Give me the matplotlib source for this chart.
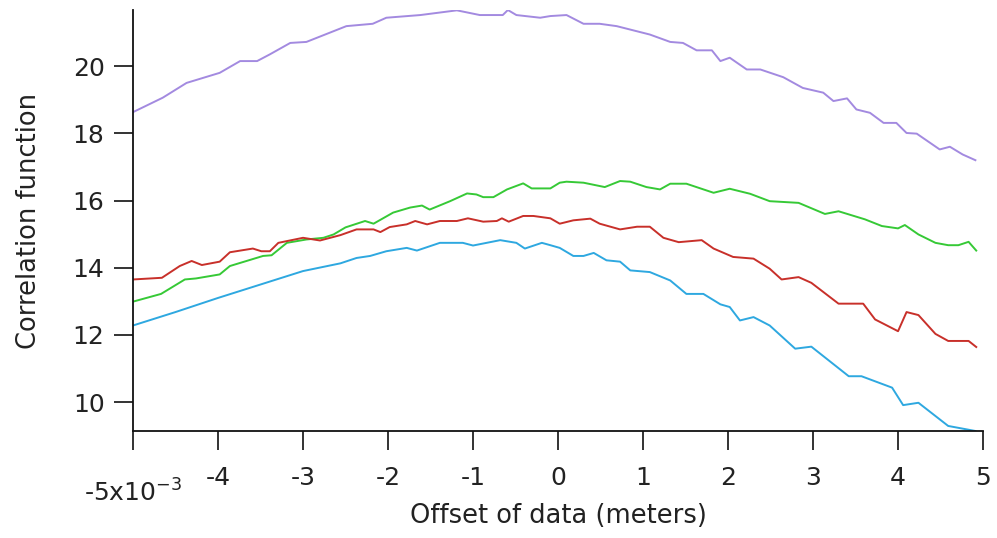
import numpy as np
import matplotlib
matplotlib.use("Agg")
import matplotlib.pyplot as plt
from matplotlib.transforms import ScaledTranslation

# offsets in mm (plotted as metres) and correlation values
purple_x = [-5.00, -4.65, -4.37, -3.98, -3.74, -3.54, -3.39, -3.15, -2.96, -2.49, -2.18, -2.02,
            -1.62, -1.19, -0.92, -0.65, -0.59, -0.49, -0.21, -0.09, 0.10, 0.30, 0.49, 0.69,
            1.08, 1.32, 1.47, 1.63, 1.81, 1.91, 2.02, 2.22, 2.38, 2.65, 2.88, 3.12, 3.24, 3.40,
            3.51, 3.67, 3.83, 3.98, 4.10, 4.22, 4.49, 4.61, 4.76, 4.91]
purple_y = [18.63, 19.06, 19.50, 19.80, 20.15, 20.15, 20.35, 20.69, 20.72, 21.19, 21.26, 21.44,
            21.52, 21.66, 21.52, 21.52, 21.67, 21.52, 21.44, 21.49, 21.52, 21.26, 21.26, 21.19,
            20.94, 20.72, 20.69, 20.47, 20.47, 20.15, 20.25, 19.90, 19.90, 19.67, 19.35, 19.21, 18.96, 19.04,
            18.71, 18.61, 18.31, 18.31, 18.01, 17.99, 17.52, 17.60, 17.37, 17.20]

green_x = [-5.00, -4.67, -4.39, -4.26, -3.98, -3.86, -3.47, -3.37, -3.19, -2.96, -2.76, -2.64,
           -2.50, -2.27, -2.17, -1.94, -1.74, -1.60, -1.51, -1.27, -1.07, -0.96, -0.88, -0.76,
           -0.60, -0.41, -0.31, -0.09, 0.02, 0.10, 0.30, 0.55, 0.73, 0.85, 1.04, 1.20, 1.32,
           1.51, 1.83, 2.02, 2.26, 2.49, 2.83, 3.14, 3.30, 3.61, 3.81, 4.00, 4.08, 4.24, 4.44,
           4.59, 4.71, 4.83, 4.92]
green_y = [12.99, 13.22, 13.65, 13.68, 13.80, 14.05, 14.35, 14.37, 14.74, 14.84, 14.89, 14.99,
           15.20, 15.39, 15.31, 15.64, 15.79, 15.85, 15.73, 15.98, 16.21, 16.18, 16.10, 16.10,
           16.33, 16.51, 16.36, 16.36, 16.53, 16.56, 16.53, 16.40, 16.58, 16.56, 16.40, 16.33, 16.50,
           16.50, 16.23, 16.35, 16.20, 15.98, 15.93, 15.60, 15.68, 15.44, 15.24, 15.17, 15.27, 14.99, 14.74,
           14.67, 14.67, 14.77, 14.51]

red_x = [-5.00, -4.66, -4.45, -4.31, -4.19, -3.98, -3.86, -3.59, -3.49, -3.39, -3.29, -3.00,
         -2.80, -2.56, -2.37, -2.17, -2.09, -1.98, -1.78, -1.68, -1.54, -1.39, -1.19, -1.06,
         -0.88, -0.72, -0.66, -0.58, -0.41, -0.29, -0.09, 0.02, 0.18, 0.38, 0.49, 0.73, 0.93,
         1.08, 1.24, 1.42, 1.69, 1.83, 2.06, 2.30, 2.49, 2.63, 2.83, 2.98, 3.30, 3.59, 3.73,
         4.00, 4.10, 4.24, 4.44, 4.59, 4.83, 4.92]
red_y = [13.65, 13.70, 14.05, 14.20, 14.08, 14.18, 14.46, 14.57, 14.49, 14.49, 14.74, 14.89,
         14.81, 14.97, 15.14, 15.14, 15.06, 15.21, 15.29, 15.39, 15.29, 15.39, 15.39, 15.47,
         15.37, 15.39, 15.47, 15.37, 15.54, 15.54, 15.47, 15.31, 15.41, 15.46, 15.31, 15.14, 15.22,
         15.22, 14.89, 14.76, 14.82, 14.57, 14.32, 14.27, 13.97, 13.65, 13.72, 13.55, 12.93, 12.93, 12.46,
         12.11, 12.68, 12.59, 12.03, 11.82, 11.82, 11.64]

blue_x = [-5.00, -4.50, -4.00, -3.50, -3.00, -2.56, -2.37, -2.21, -2.02, -1.78, -1.66, -1.39,
          -1.12, -1.00, -0.84, -0.68, -0.49, -0.39, -0.19, -0.09, 0.02, 0.18, 0.30, 0.42, 0.57,
          0.73, 0.85, 1.08, 1.32, 1.51, 1.71, 1.91, 2.02, 2.14, 2.30, 2.49, 2.79, 2.98, 3.42,
          3.57, 3.93, 4.06, 4.24, 4.59, 4.91]
blue_y = [12.28, 12.68, 13.10, 13.50, 13.90, 14.13, 14.29, 14.35, 14.49, 14.59, 14.51, 14.74,
          14.74, 14.66, 14.74, 14.82, 14.74, 14.57, 14.74, 14.67, 14.59, 14.35, 14.35, 14.44, 14.22,
          14.18, 13.92, 13.87, 13.62, 13.22, 13.22, 12.91, 12.83, 12.43, 12.53, 12.28, 11.59, 11.65, 10.77,
          10.77, 10.43, 9.91, 9.98, 9.29, 9.14]

xticks = [-5, -4, -3, -2, -1, 0, 1, 2, 3, 4, 5]
xticklabels = ["-5x10$^{-3}$", "-4", "-3", "-2", "-1", "0", "1", "2", "3", "4", "5"]
yticks = [10, 12, 14, 16, 18, 20]

plt.rcParams['font.family'] = ['DejaVu Sans']
plt.rcParams['mathtext.default'] = 'regular'

fig = plt.figure(figsize=(9.97, 5.38), dpi=100)
ax = fig.add_axes([0.1334, 0.1989, 0.8526, 0.7825])

ax.plot(np.array(purple_x) * 1e-3, purple_y, color='#a38ae0', lw=1.4)
ax.plot(np.array(green_x) * 1e-3, green_y, color='#36c936', lw=1.4)
ax.plot(np.array(red_x) * 1e-3, red_y, color='#c8302a', lw=1.4)
ax.plot(np.array(blue_x) * 1e-3, blue_y, color='#2ea8e0', lw=1.4)

ax.set_xlim(-5e-3, 5e-3)
ax.set_ylim(min(blue_y), max(purple_y))

ax.set_xticks(np.array(xticks) * 1e-3)
ax.set_xticklabels(xticklabels)
ax.set_yticks(yticks)

for s in ['top', 'right']:
    ax.spines[s].set_visible(False)
for s in ['left', 'bottom']:
    ax.spines[s].set_linewidth(1.3)
    ax.spines[s].set_color('#111111')

ax.tick_params(axis='both', direction='out', length=13.5, width=1.2, colors='#111111',
               labelsize=18, labelcolor='#222222')
ax.tick_params(axis='x', pad=12)
ax.tick_params(axis='y', pad=7)

# the exponent label sits lower, like the original
first = ax.get_xticklabels()[0]
first.set_transform(first.get_transform() + ScaledTranslation(0, -9 / 72, fig.dpi_scale_trans))

ax.set_xlabel("Offset of data (meters)", fontsize=18.5, color='#222222')
ax.set_ylabel("Correlation function", fontsize=18.5, color='#222222')
ax.xaxis.set_label_coords(0.5, -0.172)
ax.yaxis.set_label_coords(-0.107, 0.5)

fig.savefig('out.png', dpi=100)
